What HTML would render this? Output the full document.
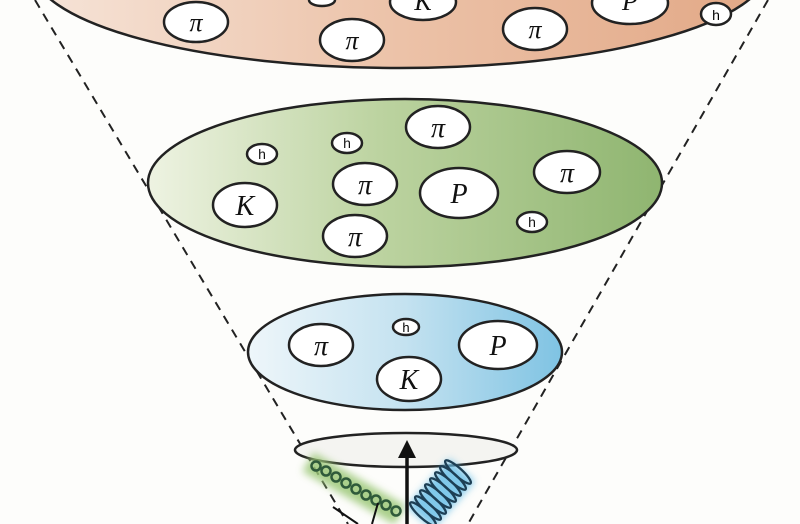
<!DOCTYPE html>
<html><head><meta charset="utf-8"><style>
html,body{margin:0;padding:0;background:#fdfdfb;}
svg{display:block}
text{font-family:"Liberation Serif",serif;font-style:italic;}
.h{font-family:"Liberation Sans",sans-serif;font-style:normal;}
</style></head><body>
<svg width="800" height="524" viewBox="0 0 800 524" xmlns="http://www.w3.org/2000/svg">
<defs>
<linearGradient id="gt" x1="0" x2="1"><stop offset="0" stop-color="#f6e4d8"/><stop offset="0.5" stop-color="#ecc2a8"/><stop offset="1" stop-color="#e2a886"/></linearGradient>
<linearGradient id="gg" x1="0" x2="1"><stop offset="0" stop-color="#eef3e2"/><stop offset="0.45" stop-color="#bcd3a0"/><stop offset="1" stop-color="#8fb570"/></linearGradient>
<linearGradient id="gb" x1="0" x2="1"><stop offset="0" stop-color="#eef6fa"/><stop offset="0.5" stop-color="#c4e2f0"/><stop offset="1" stop-color="#7fc3e3"/></linearGradient>
<filter id="bl" filterUnits="userSpaceOnUse" x="250" y="400" width="300" height="140"><feGaussianBlur stdDeviation="4"/></filter>
</defs>
<rect width="800" height="524" fill="#fdfdfb"/>
<ellipse cx="400" cy="-32" rx="368" ry="100" fill="url(#gt)" stroke="#222" stroke-width="2.5"/>
<line x1="35" y1="0" x2="348" y2="524" stroke="#222" stroke-width="2" stroke-dasharray="9,7"/>
<line x1="768" y1="0" x2="468" y2="524" stroke="#222" stroke-width="2" stroke-dasharray="9,7"/>
<g fill="#fff" stroke="#222" stroke-width="2.5">
<ellipse cx="196" cy="22" rx="32" ry="20"/>
<ellipse cx="352" cy="40" rx="32" ry="21"/>
<ellipse cx="423" cy="2" rx="33" ry="18"/>
<ellipse cx="535" cy="29" rx="32" ry="21"/>
<ellipse cx="630" cy="3" rx="38" ry="21"/>
<ellipse cx="716" cy="14" rx="15" ry="11"/>
<ellipse cx="322" cy="0" rx="13" ry="6"/>
</g>
<g font-size="26" text-anchor="middle" fill="#111">
<text x="196" y="31">π</text><text x="352" y="49">π</text><text x="535" y="38">π</text>
<text x="423" y="10">K</text><text x="630" y="10">P</text>
</g>
<text class="h" x="716" y="20" font-size="14" text-anchor="middle">h</text>
<ellipse cx="405" cy="183" rx="257" ry="84" fill="url(#gg)" stroke="#222" stroke-width="2.5"/>
<g fill="#fff" stroke="#222" stroke-width="2.5">
<ellipse cx="262" cy="154" rx="15" ry="10"/>
<ellipse cx="347" cy="143" rx="15" ry="10"/>
<ellipse cx="438" cy="127" rx="32" ry="21"/>
<ellipse cx="365" cy="184" rx="32" ry="21"/>
<ellipse cx="459" cy="193" rx="39" ry="25"/>
<ellipse cx="567" cy="172" rx="33" ry="21"/>
<ellipse cx="245" cy="205" rx="32" ry="22"/>
<ellipse cx="532" cy="222" rx="15" ry="10"/>
<ellipse cx="355" cy="236" rx="32" ry="21"/>
</g>
<g font-size="28" text-anchor="middle" fill="#111">
<text x="438" y="137">π</text><text x="365" y="194">π</text><text x="567" y="182">π</text><text x="355" y="246">π</text>
<text x="245" y="215">K</text><text x="459" y="203">P</text>
</g>
<g font-size="14" text-anchor="middle" fill="#111">
<text class="h" x="262" y="159">h</text><text class="h" x="347" y="148">h</text><text class="h" x="532" y="227">h</text>
</g>
<ellipse cx="405" cy="352" rx="157" ry="58" fill="url(#gb)" stroke="#222" stroke-width="2.5"/>
<g fill="#fff" stroke="#222" stroke-width="2.5">
<ellipse cx="321" cy="345" rx="32" ry="21"/>
<ellipse cx="406" cy="327" rx="13" ry="8"/>
<ellipse cx="498" cy="345" rx="39" ry="24"/>
<ellipse cx="409" cy="379" rx="32" ry="22"/>
</g>
<g font-size="28" text-anchor="middle" fill="#111">
<text x="321" y="355">π</text><text x="498" y="355">P</text><text x="409" y="389">K</text>
</g>
<text class="h" x="406" y="332" font-size="13" text-anchor="middle">h</text>
<ellipse cx="406" cy="450" rx="111" ry="17" fill="#f4f4f1" stroke="#222" stroke-width="2.5"/>
<path d="M308 462 L400 515" stroke="#9cc878" stroke-width="22" filter="url(#bl)" opacity="0.85"/>
<g fill="none" stroke="#2f5a3a" stroke-width="2.5">
<circle cx="316" cy="466" r="4.5"/><circle cx="326" cy="471" r="4.5"/><circle cx="336" cy="477" r="4.5"/>
<circle cx="346" cy="483" r="4.5"/><circle cx="356" cy="489" r="4.5"/><circle cx="366" cy="495" r="4.5"/>
<circle cx="376" cy="500" r="4.5"/><circle cx="386" cy="505" r="4.5"/><circle cx="396" cy="511" r="4.5"/>
</g>
<path d="M420 518 L462 470" stroke="#6cc0e8" stroke-width="34" filter="url(#bl)" opacity="0.85"/>
<g fill="none" stroke="#1d3f55" stroke-width="2.3">
<ellipse cx="423" cy="514" rx="17" ry="4" transform="rotate(42 423 514)"/>
<ellipse cx="428" cy="508" rx="17" ry="4" transform="rotate(42 428 508)"/>
<ellipse cx="433" cy="502" rx="17" ry="4" transform="rotate(42 433 502)"/>
<ellipse cx="438" cy="496" rx="17" ry="4" transform="rotate(42 438 496)"/>
<ellipse cx="443" cy="490" rx="17" ry="4" transform="rotate(42 443 490)"/>
<ellipse cx="448" cy="484" rx="17" ry="4" transform="rotate(42 448 484)"/>
<ellipse cx="453" cy="478" rx="17" ry="4" transform="rotate(42 453 478)"/>
<ellipse cx="458" cy="472" rx="17" ry="4" transform="rotate(42 458 472)"/>
</g>
<line x1="407" y1="524" x2="407" y2="456" stroke="#111" stroke-width="3.5"/>
<polygon points="407,440 398,458 416,458" fill="#111"/>
<line x1="333" y1="507" x2="358" y2="524" stroke="#111" stroke-width="2"/>
<line x1="378" y1="503" x2="372" y2="524" stroke="#111" stroke-width="2"/>
</svg>
</body></html>
